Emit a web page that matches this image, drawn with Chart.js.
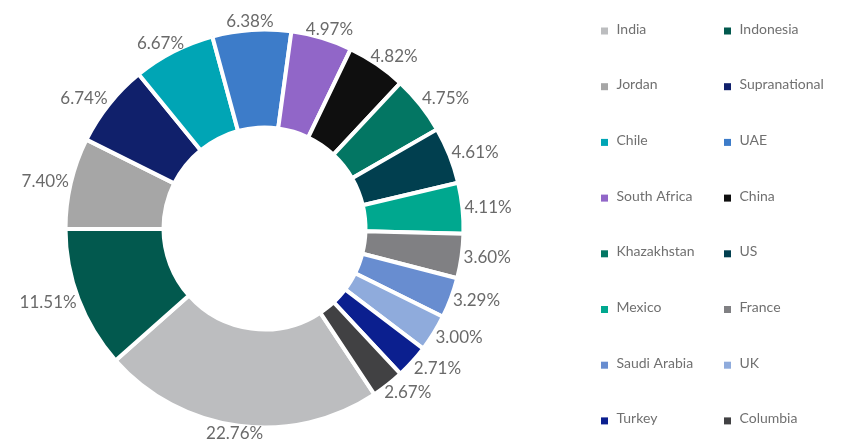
<!DOCTYPE html>
<html>
<head>
<meta charset="utf-8">
<script src="https://cdn.jsdelivr.net/npm/chart.js@4.4.1/dist/chart.umd.min.js"></script>
<style>
  html, body { margin: 0; padding: 0; background: #fff; }
  #wrap { position: relative; width: 843px; height: 446px; }
</style>
</head>
<body>
<div id="wrap"><canvas id="countryChart"></canvas></div>
<script>
// exposição por país (% da carteira)
const countries = ['India', 'Indonesia', 'Jordan', 'Supranational', 'Chile', 'UAE', 'South Africa', 'China',
  'Khazakhstan', 'US', 'Mexico', 'France', 'Saudi Arabia', 'UK', 'Turkey', 'Columbia'];
const weights = [22.76, 11.51, 7.40, 6.74, 6.67, 6.38, 4.97, 4.82, 4.75, 4.61, 4.11, 3.60, 3.29, 3.00, 2.71, 2.67];
const sliceColors = ['#bcbdbf', '#02594e', '#a6a6a6', '#10206b', '#00a5b5', '#3d7cc9', '#9166c8', '#0f0f0f',
  '#037663', '#013f4f', '#00a88f', '#808083', '#688dd0', '#8fabdc', '#0b1f8f', '#414143'];

// rótulos de percentagem do lado de fora de cada fatia
const outerLabels = {
  id: 'outerLabels',
  afterDatasetsDraw(chart) {
    const ctx = chart.ctx;
    const meta = chart.getDatasetMeta(0);
    ctx.save();
    ctx.font = '17px Lato';
    ctx.fillStyle = '#6a6a6a';
    ctx.textAlign = 'center';
    ctx.textBaseline = 'middle';
    meta.data.forEach((arc, i) => {
      const p = arc.getProps(['x', 'y', 'startAngle', 'endAngle', 'outerRadius'], true);
      const mid = (p.startAngle + p.endAngle) / 2;
      const vx = Math.cos(mid);
      const vy = Math.sin(mid);
      const r = p.outerRadius + 2;
      const text = weights[i].toFixed(2) + '%';
      const w = ctx.measureText(text).width;
      const h = 12;
      const s = 1 / Math.max(Math.abs(vx), Math.abs(vy));
      ctx.fillText(text, p.x + vx * r + vx * s * w / 2, p.y + vy * r + vy * s * h / 2);
    });
    ctx.restore();
  }
};

// legenda em duas colunas, lida por linhas
const gridLegend = {
  id: 'gridLegend',
  afterDraw(chart) {
    const ctx = chart.ctx;
    ctx.save();
    ctx.font = '14px Lato';
    ctx.textAlign = 'left';
    ctx.textBaseline = 'alphabetic';
    countries.forEach((name, i) => {
      const x = 601 + (i % 2) * 123;
      const base = 33.5 + Math.floor(i / 2) * 55.7;
      ctx.fillStyle = sliceColors[i];
      ctx.fillRect(x, base - 6, 7, 7);
      ctx.fillStyle = '#707070';
      ctx.fillText(name, x + 15.5, base);
    });
    ctx.restore();
  }
};

const ctxCountry = document.getElementById('countryChart').getContext('2d');

new Chart(ctxCountry, {
  type: 'doughnut',
  data: {
    labels: countries,
    datasets: [{
      data: weights,
      backgroundColor: sliceColors,
      borderColor: '#ffffff',
      borderWidth: 4,
      hoverOffset: 0
    }]
  },
  options: {
    responsive: true,
    maintainAspectRatio: false,
    animation: false,
    rotation: 146.5,
    radius: 199,
    cutout: '50.75%',
    layout: { padding: { left: 0, right: 314, top: 11, bottom: 0 } },
    plugins: {
      legend: { display: false },
      tooltip: { enabled: false }
    }
  },
  plugins: [outerLabels, gridLegend]
});
</script>
</body>
</html>
